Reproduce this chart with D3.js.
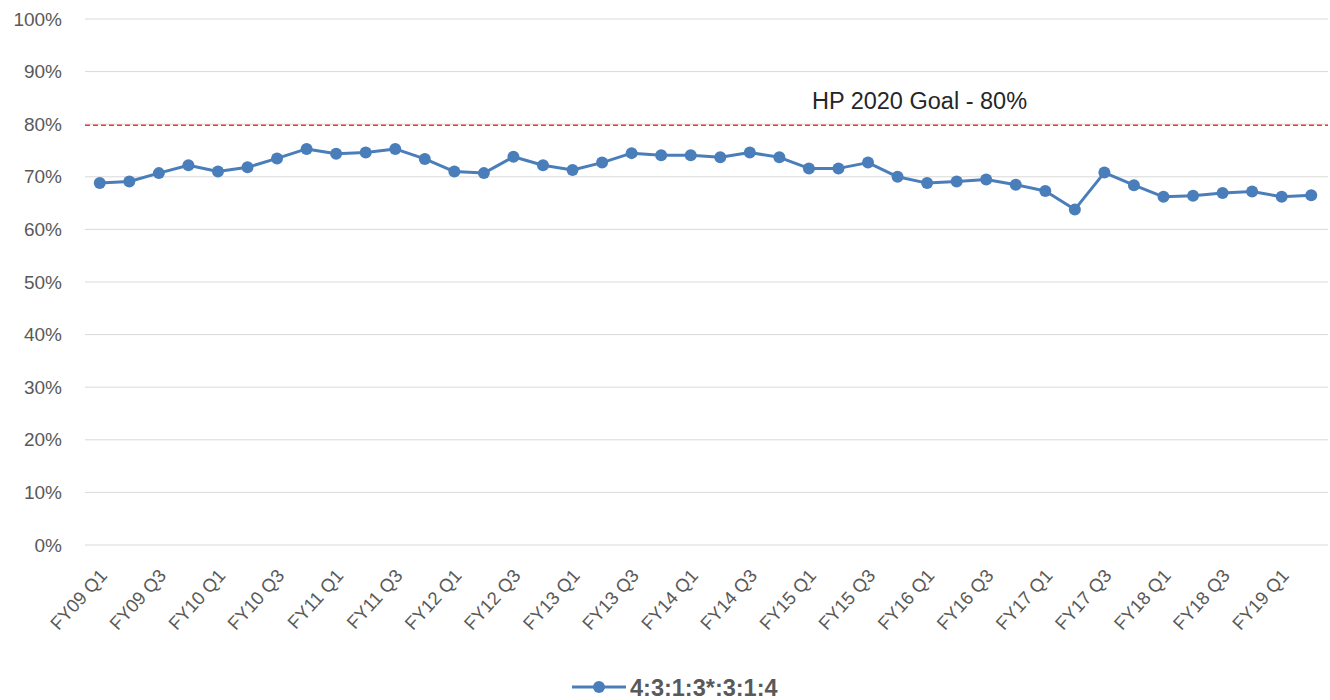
<!DOCTYPE html>
<html>
<head>
<meta charset="utf-8">
<script src="https://cdn.jsdelivr.net/npm/d3@7"></script>
<style>
  body { margin: 0; background: #fff; }
  text { font-family: "Liberation Sans", Arial, sans-serif; }
</style>
</head>
<body>
<div id="chart"></div>
<script>
// quarters FY09 Q1 .. FY19 Q2
const years = ["09","10","11","12","13","14","15","16","17","18","19"]
const quarters = []
years.forEach(function (y) {
    ["Q1","Q2","Q3","Q4"].forEach(function (q) { quarters.push("FY" + y + " " + q) })
})
quarters.splice(42)

const rates = [68.8, 69.1, 70.7, 72.2, 71.0, 71.8, 73.5, 75.3, 74.4, 74.6,
               75.3, 73.4, 71.0, 70.7, 73.8, 72.2, 71.3, 72.7, 74.5, 74.1,
               74.1, 73.7, 74.6, 73.7, 71.6, 71.6, 72.7, 70.0, 68.8, 69.1,
               69.5, 68.5, 67.3, 63.8, 70.8, 68.4, 66.2, 66.4, 66.9, 67.2,
               66.2, 66.5]

const yTicks = [0, 10, 20, 30, 40, 50, 60, 70, 80, 90, 100]
const goal = 80
const goalLabel = "HP 2020 Goal - 80%"
const seriesName = "4:3:1:3*:3:1:4"

drawChart()

function drawChart() {
    var width = 1330, height = 700
    var margin = { top: 19, left: 85 }
    var innerW = 1243, innerH = 526

    var svg = d3.select("#chart").append("svg")
        .attr("width", width)
        .attr("height", height)

    var g = svg.append("g")
        .attr("transform", "translate(" + margin.left + "," + margin.top + ")")

    var x = d3.scalePoint()
        .domain(quarters)
        .range([0, 1241])
        .padding(0.5)

    var y = d3.scaleLinear()
        .domain([0, 100])
        .range([innerH, 0])

    // gridlines
    g.selectAll(".grid")
        .data(yTicks)
        .enter()
        .append("line")
        .attr("x1", 0)
        .attr("x2", innerW)
        .attr("y1", function (d) { return y(d) })
        .attr("y2", function (d) { return y(d) })
        .attr("stroke", "#d9d9d9")
        .attr("stroke-width", 1)

    // y labels
    var yAxis = g.append("g")
        .call(d3.axisLeft(y).tickValues(yTicks).tickSize(0).tickPadding(23)
            .tickFormat(function (d) { return d + "%" }))
    yAxis.select(".domain").remove()
    yAxis.selectAll("text")
        .attr("fill", "#595959")
        .style("font-family", "'Liberation Sans', Arial, sans-serif")
        .style("font-size", "19px")

    // x labels, every other quarter
    var xAxis = g.append("g")
        .attr("transform", "translate(0," + innerH + ")")
        .call(d3.axisBottom(x).tickSize(0)
            .tickValues(quarters.filter(function (d, i) { return i % 2 === 0 })))
    xAxis.select(".domain").remove()
    xAxis.selectAll("text")
        .attr("fill", "#595959")
        .style("font-family", "'Liberation Sans', Arial, sans-serif")
        .style("font-size", "18.5px")
        .style("text-anchor", "end")
        .attr("x", 0)
        .attr("y", 0)
        .attr("dy", "0.35em")
        .attr("transform", "translate(3,27)rotate(-48)")

    // goal line
    g.append("line")
        .attr("x1", 0)
        .attr("x2", innerW)
        .attr("y1", y(goal) + 1)
        .attr("y2", y(goal) + 1)
        .attr("stroke", "#ff3030")
        .attr("stroke-width", 1.5)
        .attr("stroke-dasharray", "5,3")

    g.append("text")
        .attr("x", x(quarters[24]) + 3)
        .attr("y", y(goal) - 15)
        .attr("fill", "#262626")
        .style("font-size", "23.5px")
        .text(goalLabel)

    // series line
    var line = d3.line()
        .x(function (d, i) { return x(quarters[i]) })
        .y(function (d) { return y(d) })

    g.append("path")
        .datum(rates)
        .attr("d", line)
        .attr("fill", "none")
        .attr("stroke", "#4a7ebb")
        .attr("stroke-width", 3)
        .attr("stroke-linejoin", "round")

    g.selectAll(".dot")
        .data(rates)
        .enter()
        .append("circle")
        .attr("cx", function (d, i) { return x(quarters[i]) })
        .attr("cy", function (d) { return y(d) })
        .attr("r", 6)
        .attr("fill", "#4a7ebb")

    // legend
    var lg = svg.append("g").attr("transform", "translate(572,687)")
    lg.append("line")
        .attr("x1", 0).attr("x2", 54)
        .attr("y1", 0).attr("y2", 0)
        .attr("stroke", "#4a7ebb")
        .attr("stroke-width", 3)
    lg.append("circle")
        .attr("cx", 27).attr("cy", 0).attr("r", 6)
        .attr("fill", "#4a7ebb")
    lg.append("text")
        .attr("x", 58)
        .attr("y", 8.5)
        .attr("fill", "#595959")
        .style("font-size", "23.5px")
        .style("font-weight", "bold")
        .text(seriesName)
}
</script>
</body>
</html>
